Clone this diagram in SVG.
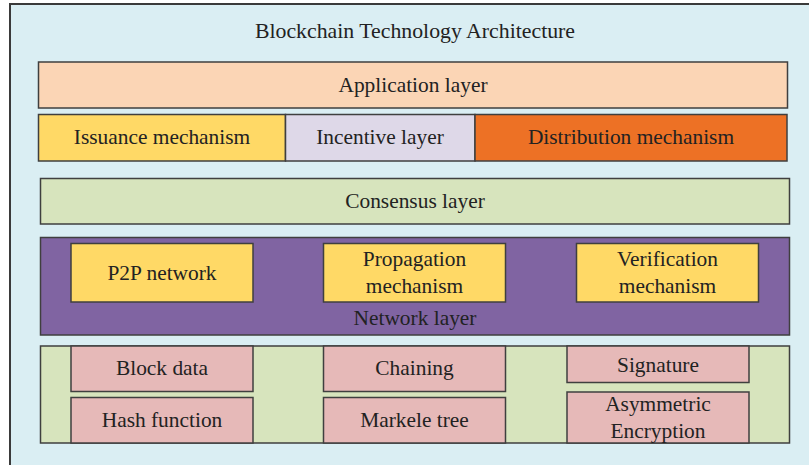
<svg xmlns="http://www.w3.org/2000/svg" width="809" height="465" viewBox="0 0 809 465">
<style>
text{font-family:"Liberation Serif","Times New Roman",serif;font-size:21.4px;fill:#222;text-anchor:middle}
.b{stroke:#3f3f3f;stroke-width:1.5}
.y{fill:#ffd966}
.p{fill:#e6b9b8}
.g{fill:#d7e4bd}
</style>
<rect x="10" y="4" width="810" height="470" fill="#daeef3" stroke="#3a3a3a" stroke-width="2"/>
<text x="415" y="38" style="font-size:21.8px">Blockchain Technology Architecture</text>
<g id="application"><rect class="b" x="38.5" y="62" width="749" height="46" fill="#fbd5b5"/><text x="413" y="92">Application layer</text></g>
<g id="issuance"><rect class="b" x="38.5" y="114.5" width="247" height="46.5" fill="#ffd966"/><text x="162" y="144">Issuance mechanism</text></g>
<g id="incentive"><rect class="b" x="285.5" y="114.5" width="189.5" height="46.5" fill="#ded8e8"/><text x="380" y="144">Incentive layer</text></g>
<g id="distribution"><rect class="b" x="475" y="114.5" width="312" height="46.5" fill="#ed7125"/><text x="631" y="144">Distribution mechanism</text></g>
<g id="consensus"><rect class="b g" x="40.5" y="178.5" width="749" height="45.5"/><text x="415" y="208">Consensus layer</text></g>
<g id="network"><rect class="b" x="40.5" y="237.5" width="749" height="97.5" fill="#8064a2"/><text x="415" y="325">Network layer</text></g>
<g id="p2p"><rect class="b y" x="71" y="243.5" width="182" height="58.5"/><text x="162" y="280">P2P network</text></g>
<g id="propagation"><rect class="b y" x="323.5" y="243.5" width="182" height="58.5"/><text x="414.5" y="266">Propagation</text><text x="414.5" y="293">mechanism</text></g>
<g id="verification"><rect class="b y" x="576.5" y="243.5" width="182" height="58.5"/><text x="667.5" y="266">Verification</text><text x="667.5" y="293">mechanism</text></g>
<g id="data"><rect class="b g" x="40.5" y="346" width="749" height="97"/></g>
<g id="block-data"><rect class="b p" x="71" y="346" width="182" height="45.5"/><text x="162" y="375">Block data</text></g>
<g id="hash"><rect class="b p" x="71" y="397.5" width="182" height="45.5"/><text x="162" y="427">Hash function</text></g>
<g id="chaining"><rect class="b p" x="323.5" y="346" width="182" height="45.5"/><text x="414.5" y="375">Chaining</text></g>
<g id="merkle"><rect class="b p" x="323.5" y="397.5" width="182" height="45.5"/><text x="414.5" y="427">Markele tree</text></g>
<g id="signature"><rect class="b p" x="567" y="346" width="182" height="36.5"/><text x="658" y="372">Signature</text></g>
<g id="asymmetric"><rect class="b p" x="567" y="392" width="182" height="51"/><text x="658" y="411">Asymmetric</text><text x="658" y="438">Encryption</text></g>
<g id="connectors"></g>
</svg>
